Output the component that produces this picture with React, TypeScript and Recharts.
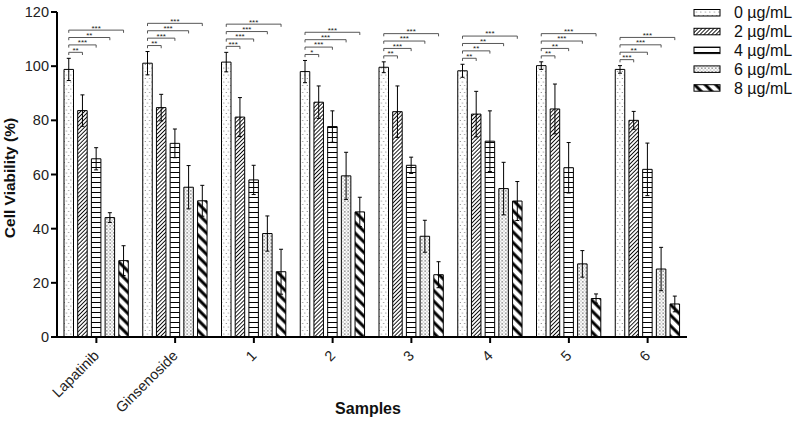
import React from 'react';
import { BarChart, Bar, XAxis, YAxis, ErrorBar } from 'recharts';

const categories = ['Lapatinib', 'Ginsenoside', '1', '2', '3', '4', '5', '6'];

const dose0 = [98.8, 101.1, 101.5, 98.0, 99.6, 98.3, 100.2, 98.8];
const err0 = [4.1, 4.3, 3.6, 4.1, 2.0, 2.4, 1.4, 1.4];
const dose2 = [83.6, 84.7, 81.2, 86.7, 83.2, 82.3, 84.2, 80.0];
const err2 = [5.8, 4.9, 7.2, 6.0, 9.5, 8.4, 9.2, 3.3];
const dose4 = [65.8, 71.5, 58.0, 77.7, 63.4, 72.3, 62.5, 61.9];
const err4 = [4.1, 5.3, 5.4, 5.8, 3.0, 11.2, 9.3, 9.7];
const dose6 = [44.1, 55.3, 38.2, 59.5, 37.2, 54.8, 27.0, 25.1];
const err6 = [1.8, 8.0, 6.5, 8.7, 5.9, 9.7, 4.9, 8.0];
const dose8 = [28.2, 50.3, 24.1, 46.2, 23.0, 50.2, 14.2, 12.2];
const err8 = [5.5, 5.7, 8.3, 5.4, 4.8, 7.2, 1.7, 2.9];

// significance vs 0 µg/mL, for 2, 4, 6, 8 µg/mL
const stars = [
  ['**', '***', '**', '***'],
  ['**', '***', '***', '***'],
  ['***', '***', '***', '***'],
  ['*', '***', '***', '***'],
  ['**', '***', '***', '***'],
  ['**', '**', '**', '***'],
  ['**', '**', '***', '***'],
  ['***', '**', '***', '***'],
];

const yTicks = [0, 20, 40, 60, 80, 100, 120];

const seriesNames = ['0 µg/mL', '2 µg/mL', '4 µg/mL', '6 µg/mL', '8 µg/mL'];

const data = categories.map((name, i) => ({
  name,
  v0: dose0[i], e0: err0[i],
  v2: dose2[i], e2: err2[i],
  v4: dose4[i], e4: err4[i],
  v6: dose6[i], e6: err6[i],
  v8: dose8[i], e8: err8[i],
}));

const series = [
  { key: 'v0', err: 'e0', fill: 'url(#pat0)' },
  { key: 'v2', err: 'e2', fill: 'url(#pat2)' },
  { key: 'v4', err: 'e4', fill: 'url(#pat4)' },
  { key: 'v6', err: 'e6', fill: 'url(#pat6)' },
  { key: 'v8', err: 'e8', fill: 'url(#pat8)' },
];

const FONT = '"Liberation Sans", Arial, sans-serif';
const BAR_SIZE = 9.5;
const BAR_GAP = 4.2;

const Patterns = () => (
  <defs>
    <pattern id="pat0" width="4.5" height="7" patternUnits="userSpaceOnUse">
      <rect width="4.5" height="7" fill="#fff" />
      <circle cx="1.2" cy="1.5" r="0.55" fill="#666" />
      <circle cx="3.4" cy="5" r="0.55" fill="#666" />
    </pattern>
    <pattern id="pat2" width="2.8" height="2.8" patternUnits="userSpaceOnUse" patternTransform="rotate(45)">
      <rect width="2.8" height="2.8" fill="#fff" />
      <line x1="1.4" y1="0" x2="1.4" y2="2.8" stroke="#000" strokeWidth="0.9" />
    </pattern>
    <pattern id="pat4" width="5" height="5" patternUnits="userSpaceOnUse">
      <rect width="5" height="5" fill="#fff" />
      <line x1="0" y1="2.5" x2="5" y2="2.5" stroke="#000" strokeWidth="1" />
    </pattern>
    <pattern id="pat6" width="3.5" height="3.5" patternUnits="userSpaceOnUse">
      <rect width="3.5" height="3.5" fill="#fff" />
      <path d="M0.5,0.5L3,3M3,0.5L0.5,3" stroke="#777" strokeWidth="0.6" />
    </pattern>
    <pattern id="pat8" width="7.5" height="7.5" patternUnits="userSpaceOnUse" patternTransform="rotate(-45)">
      <rect width="7.5" height="7.5" fill="#fff" />
      <line x1="3.75" y1="0" x2="3.75" y2="7.5" stroke="#000" strokeWidth="3" />
    </pattern>
  </defs>
);

const Brackets = (props: any) => {
  const { x, y, width, height, value, index } = props;
  if (index == null || !value) return null;
  const bx = Number(x);
  const bw = Number(width);
  const base = Number(y) + Number(height);
  const k = Number(height) / Number(value);
  const errTop = base - (Number(value) + err0[index]) * k;
  const pitch = bw + BAR_GAP;
  const c0 = bx + bw / 2;
  return (
    <g>
      {stars[index].map((s, j) => {
        const ly = errTop - 6 - j * 7.4;
        const c1 = c0 + (j + 1) * pitch;
        return (
          <g key={j}>
            <path d={`M${c0},${ly + 2.7}V${ly}H${c1}V${ly + 2.7}`} fill="none" stroke="#444" strokeWidth={0.9} />
            <text x={(c0 + c1) / 2} y={ly + 0.4} fontSize={8} textAnchor="middle" fill="#222" fontFamily={FONT}>
              {s}
            </text>
          </g>
        );
      })}
    </g>
  );
};

const XTick = ({ x, y, payload }: any) => (
  <text
    transform={`translate(${x},${y + 8}) rotate(-45)`}
    textAnchor="end"
    dy="0.35em"
    fontSize={14.5}
    fontFamily={FONT}
    fill="#222"
  >
    {payload.value}
  </text>
);

const Legend = () => (
  <g fontFamily={FONT}>
    {seriesNames.map((n, i) => (
      <g key={n}>
        <rect x={694} y={9.5 + i * 18.8} width={26} height={6.5} fill={series[i].fill} stroke="#000" strokeWidth={1} />
        <text x={734} y={12.8 + i * 18.8} dy="0.35em" fontSize={16} fill="#111">
          {n}
        </text>
      </g>
    ))}
  </g>
);

export default function App() {
  return (
    <div style={{ position: 'absolute', left: 0, top: 0, width: 796, height: 421, background: '#fff' }}>
      <BarChart
        width={796}
        height={421}
        data={data}
        margin={{ top: 12, right: 109, bottom: 0, left: 0 }}
        barSize={BAR_SIZE}
        barGap={BAR_GAP}
      >
        <Patterns />
        <XAxis
          dataKey="name"
          interval={0}
          height={84}
          tick={<XTick />}
          tickSize={6}
          axisLine={{ stroke: '#000', strokeWidth: 2 }}
          tickLine={{ stroke: '#000', strokeWidth: 2 }}
        />
        <YAxis
          width={57}
          domain={[0, 120]}
          ticks={yTicks}
          tickSize={6}
          tick={{ fontSize: 14.5, fill: '#222', fontFamily: FONT }}
          axisLine={{ stroke: '#000', strokeWidth: 2 }}
          tickLine={{ stroke: '#000', strokeWidth: 2 }}
        />
        {series.map((s, i) => (
          <Bar
            key={s.key}
            dataKey={s.key}
            fill={s.fill}
            stroke="#000"
            strokeWidth={1}
            isAnimationActive={false}
            label={i === 0 ? (p: any) => <Brackets {...p} /> : undefined}
          >
            <ErrorBar dataKey={s.err} width={2} stroke="#000" strokeWidth={1} />
          </Bar>
        ))}
        <Legend />
        <text
          transform="translate(15,178) rotate(-90)"
          textAnchor="middle"
          fontSize={15.5}
          fontWeight="bold"
          fontFamily={FONT}
          fill="#111"
        >
          Cell Viability (%)
        </text>
        <text x={368} y={414} textAnchor="middle" fontSize={16} fontWeight="bold" fontFamily={FONT} fill="#111">
          Samples
        </text>
      </BarChart>
    </div>
  );
}
